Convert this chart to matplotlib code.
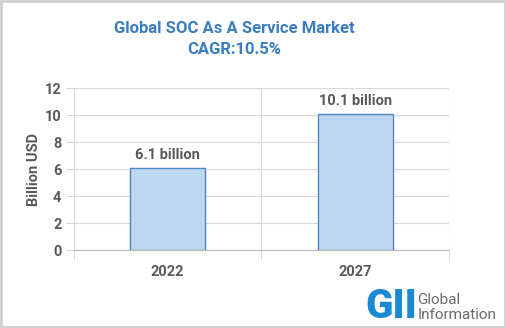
import numpy as np
import matplotlib.pyplot as plt

# chart data
years = ['2022', '2027']
market_size = [6.1, 10.1]
bar_labels = ['6.1 billion', '10.1 billion']
y_ticks = [0, 2, 4, 6, 8, 10, 12]

title_blue = '#3a7dc0'
text_gray = '#595959'
grid_gray = '#d9d9d9'

plt.rcParams['font.family'] = ['Roboto', 'DejaVu Sans']

fig = plt.figure(figsize=(5.06, 3.28), dpi=100)
fig.patch.set_facecolor('white')

# light gray frame round the whole picture
frame = plt.Rectangle((0.002, 0.003), 0.996, 0.994, transform=fig.transFigure,
                      fill=False, edgecolor='#cfcfcf', linewidth=2)
fig.patches.append(frame)

ax = fig.add_axes([0.1462, 0.2378, 0.7411, 0.4939])

x = np.arange(len(years))
ax.bar(x, market_size, width=0.4, color='#bdd7ee', edgecolor='#4a86c8',
       linewidth=1.0, zorder=3)

for xi, val, lab in zip(x, market_size, bar_labels):
    ax.text(xi, val + 0.4, lab, ha='center', va='bottom', fontsize=10.5,
            fontweight='bold', color=text_gray)

ax.set_xlim(-0.5, len(years) - 0.5)
ax.set_ylim(0, 12)
ax.set_yticks(y_ticks)
ax.set_xticks(x)
ax.set_xticklabels(years)
ax.set_xticks(np.arange(-0.5, len(years), 1.0), minor=True)

ax.grid(axis='y', color=grid_gray, linewidth=0.8, zorder=0)
ax.grid(axis='x', which='minor', color=grid_gray, linewidth=0.8, zorder=0)

for side in ['top', 'right', 'left']:
    ax.spines[side].set_visible(False)
ax.spines['bottom'].set_color('#bfbfbf')
ax.spines['bottom'].set_linewidth(0.9)

ax.tick_params(axis='y', length=6, color=grid_gray, labelsize=10.5,
               labelcolor=text_gray, pad=3)
ax.tick_params(axis='x', which='major', length=0, labelsize=10.5,
               labelcolor=text_gray, pad=11)
ax.tick_params(axis='x', which='minor', length=7, color=grid_gray)
for lab in ax.get_xticklabels() + ax.get_yticklabels():
    lab.set_fontweight('bold')

ax.set_ylabel('Billion USD', fontsize=10.5, fontweight='bold', color=text_gray,
              labelpad=3)

fig.text(0.4634, 0.912, 'Global SOC As A Service Market', ha='center',
         va='center', fontsize=12, fontweight='bold', color=title_blue)
fig.text(0.4634, 0.848, 'CAGR:10.5%', ha='center', va='center',
         fontsize=12, fontweight='bold', color=title_blue)

# logo
fig.text(0.722, 0.0305, 'GII', ha='left', va='baseline', fontsize=29,
         fontweight='heavy', color='#1a8ad4')
fig.text(0.825, 0.072, 'Global', ha='left', va='baseline',
         fontsize=11, color='#6b6b6b')
fig.text(0.825, 0.027, 'Information', ha='left', va='baseline',
         fontsize=11, color='#6b6b6b')

fig.savefig('out.png', dpi=100)
